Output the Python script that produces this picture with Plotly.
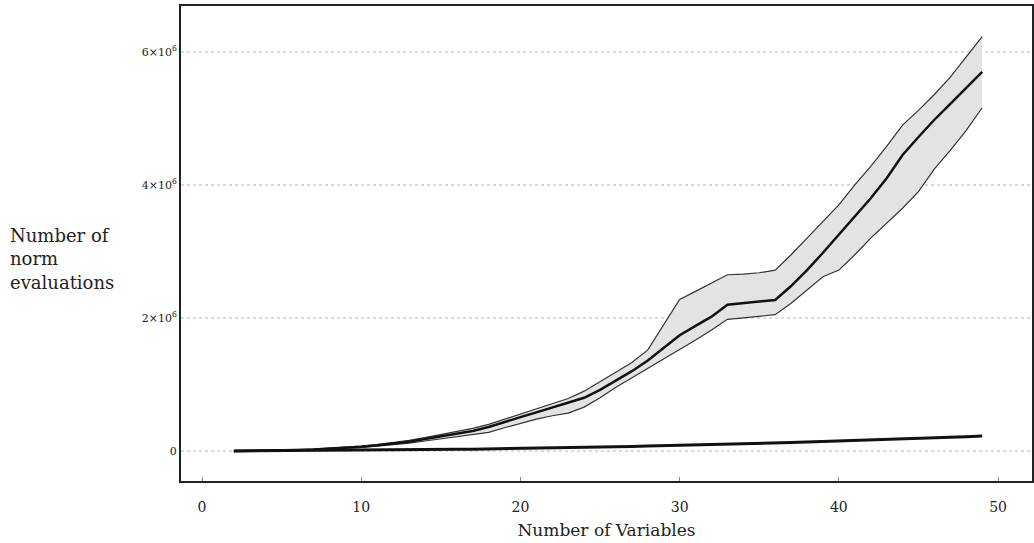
import plotly.graph_objects as go

# Number of variables
n_vars = list(range(2, 50))

# Norm evaluations (millions) for the first method: mean and spread band
mean_evals = [0.0, 0.002, 0.005, 0.009, 0.015, 0.023, 0.034, 0.048, 0.065, 0.085,
              0.11, 0.14, 0.18, 0.22, 0.26, 0.30, 0.36, 0.44, 0.51, 0.58,
              0.65, 0.72, 0.80, 0.92, 1.06, 1.20, 1.36, 1.55, 1.74, 1.88,
              2.02, 2.20, 2.22, 2.24, 2.27, 2.48, 2.72, 2.98, 3.25, 3.52,
              3.80, 4.10, 4.45, 4.72, 4.98, 5.22, 5.46, 5.70]
upper_evals = [0.0, 0.003, 0.006, 0.011, 0.018, 0.027, 0.04, 0.056, 0.075, 0.098,
               0.125, 0.16, 0.20, 0.245, 0.29, 0.34, 0.40, 0.48, 0.56, 0.64,
               0.71, 0.79, 0.90, 1.04, 1.18, 1.33, 1.52, 1.90, 2.28, 2.40,
               2.52, 2.65, 2.66, 2.68, 2.72, 2.95, 3.20, 3.45, 3.70, 4.00,
               4.28, 4.58, 4.90, 5.12, 5.36, 5.62, 5.92, 6.23]
lower_evals = [0.0, 0.001, 0.004, 0.007, 0.012, 0.019, 0.028, 0.04, 0.055, 0.072,
               0.093, 0.118, 0.15, 0.18, 0.21, 0.24, 0.28, 0.35, 0.42, 0.48,
               0.53, 0.57, 0.66, 0.80, 0.96, 1.10, 1.24, 1.39, 1.52, 1.67,
               1.82, 1.98, 2.00, 2.02, 2.05, 2.22, 2.42, 2.62, 2.72, 2.95,
               3.20, 3.42, 3.65, 3.90, 4.24, 4.52, 4.82, 5.16]

# Norm evaluations (millions) for the second method
second_evals = [0.0, 0.001, 0.002, 0.003, 0.004, 0.005, 0.006, 0.008, 0.010, 0.012,
                0.014, 0.016, 0.019, 0.022, 0.025, 0.028, 0.031, 0.034, 0.038, 0.042,
                0.046, 0.050, 0.054, 0.058, 0.063, 0.068, 0.074, 0.079, 0.085, 0.090,
                0.096, 0.102, 0.108, 0.115, 0.122, 0.128, 0.135, 0.142, 0.150, 0.157,
                0.165, 0.173, 0.181, 0.19, 0.198, 0.207, 0.216, 0.225]

y_tick_vals = [0, 2e6, 4e6, 6e6]
y_tick_text = ["0", "2×10<sup>6</sup>", "4×10<sup>6</sup>", "6×10<sup>6</sup>"]
x_tick_vals = [0, 10, 20, 30, 40, 50]

M = 1e6
serif = "DejaVu Serif, Liberation Serif, serif"

fig = go.Figure()

fig.add_trace(go.Scatter(
    x=n_vars, y=[v * M for v in lower_evals], mode="lines",
    line=dict(color="#333333", width=1.2), showlegend=False))
fig.add_trace(go.Scatter(
    x=n_vars, y=[v * M for v in upper_evals], mode="lines",
    line=dict(color="#333333", width=1.2), fill="tonexty",
    fillcolor="#e2e4e3", showlegend=False))
fig.add_trace(go.Scatter(
    x=n_vars, y=[v * M for v in mean_evals], mode="lines",
    line=dict(color="#111111", width=2.5), showlegend=False))
fig.add_trace(go.Scatter(
    x=n_vars, y=[v * M for v in second_evals], mode="lines",
    line=dict(color="#111111", width=3), showlegend=False))

fig.update_layout(
    width=1034, height=543,
    margin=dict(l=181, r=0, t=6, b=62),
    paper_bgcolor="white", plot_bgcolor="white",
    font=dict(family=serif, color="#222222"),
    xaxis=dict(
        range=[-1.32, 52.13], tickvals=x_tick_vals,
        showline=True, linecolor="#222222", linewidth=2, mirror=True,
        ticks="inside", ticklen=4, tickcolor="#888888",
        ticklabelstandoff=12,
        showgrid=False, zeroline=False,
        tickfont=dict(size=14, family=serif, color="#222222"),
        title=dict(text="Number of Variables", standoff=10,
                   font=dict(size=17, family=serif, color="#222222")),
    ),
    yaxis=dict(
        range=[-0.451e6, 6.69e6], tickvals=y_tick_vals, ticktext=y_tick_text,
        showline=True, linecolor="#222222", linewidth=2, mirror=True,
        ticks="", showgrid=True, gridcolor="#dadada", griddash="dot",
        gridwidth=1.5, zeroline=False,
        tickfont=dict(size=11, family=serif, color="#222222"),
    ),
)

fig.add_annotation(
    text="Number of<br>norm<br>evaluations", xref="paper", yref="paper",
    x=(8 - 181) / 853, y=(481 - 259) / 475, xanchor="left", yanchor="middle",
    align="left", showarrow=False,
    font=dict(size=18, family=serif, color="#222222"))

fig.write_html("out.html")
